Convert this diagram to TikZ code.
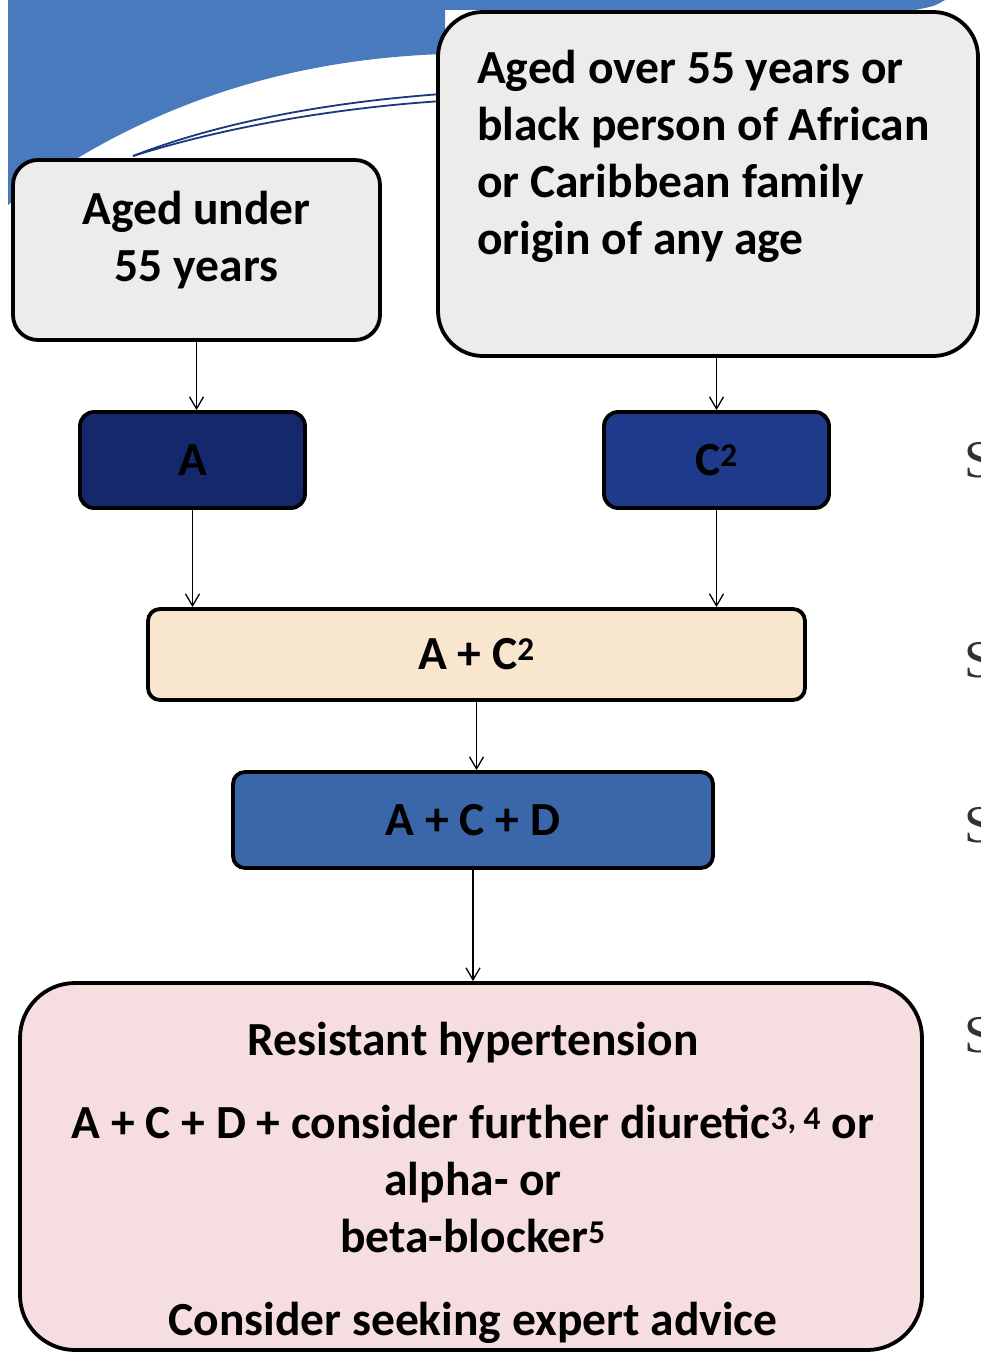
\documentclass[tikz,border=0pt]{standalone}
\usepackage{fontspec}
\setmainfont{Carlito}
\newfontfamily\serifS{Liberation Serif}
\usetikzlibrary{arrows.meta}
\definecolor{bgblue}{RGB}{74,122,190}
\definecolor{lineblue}{RGB}{28,55,128}
\definecolor{boxgray}{RGB}{236,236,236}
\definecolor{navyA}{RGB}{22,40,108}
\definecolor{navyC}{RGB}{30,58,138}
\definecolor{peach}{RGB}{248,230,206}
\definecolor{midblue}{RGB}{58,102,170}
\definecolor{pinkfill}{RGB}{246,222,224}
\definecolor{sgray}{RGB}{50,50,50}
\begin{document}
\begin{tikzpicture}[x=1pt,y=-1pt,
  box/.style={draw=black, line width=3.8pt, rounded corners=#1, inner sep=0pt},
  txt/.style={font=\fontsize{47.5}{57}\selectfont\bfseries, text=black, inner sep=0pt},
  conn/.style={draw=black, line width=1.3pt, -{Straight Barb[length=12pt,width=14pt,line width=1.3pt]}},
  sletter/.style={font=\serifS\fontsize{53}{60}\selectfont, text=sgray, inner sep=0pt, anchor=west}
]
\useasboundingbox (0,0) rectangle (980,1354);
\fill[white] (0,0) rectangle (980,1354);
% blue swoosh
\fill[bgblue] (8,0) -- (945,0) .. controls (935,6) .. (915,10) -- (445,10) -- (445,54)
  .. controls (250,60) and (110,128) .. (8,205) -- cycle;
\draw[lineblue, line width=1.8pt] (133,156) .. controls (220,122) and (330,102) .. (442,94);
\draw[lineblue, line width=1.8pt] (133,156) .. controls (225,127) and (335,108) .. (442,101);

% boxes
\node[box=25pt, fill=boxgray, minimum width=367pt, minimum height=180pt] (under) at (196.5,250) {};
\node[txt, align=center] (undertxt) at (196.5,240) {Aged under\\55 years};

\node[box=45pt, fill=boxgray, minimum width=540pt, minimum height=344pt] (over) at (708,184) {};
\node[txt, align=left, anchor=west] (overtxt) at (477,156) {Aged over 55 years or\\black person of African\\or Caribbean family\\origin of any age};

\node[box=14pt, fill=navyA, minimum width=225pt, minimum height=96pt, txt] (a) at (192.5,460) {A};
\node[box=14pt, fill=navyC, minimum width=225pt, minimum height=96pt, txt] (c2) at (716.5,460) {C\textsuperscript{2}};

\node[box=12pt, fill=peach, minimum width=657pt, minimum height=91pt, txt] (ac2) at (476.5,654.5) {A + C\textsuperscript{2}};
\node[box=12pt, fill=midblue, minimum width=480pt, minimum height=96pt, txt] (acd) at (473,820) {A + C + D};

\node[box=55pt, fill=pinkfill, minimum width=902pt, minimum height=367pt] (res) at (471,1166.5) {};
\node[txt, align=center] (restxt) at (473,1183) {Resistant hypertension\\[26pt]
A + C + D + consider further diuretic\textsuperscript{3, 4} or\\
alpha- or\\
beta-blocker\textsuperscript{5}\\[26pt]
Consider seeking expert advice};

% connectors
\draw[conn] (under.south) -- (under.south |- a.north);
\draw[conn] (c2.north |- over.south) -- (c2.north);
\draw[conn] (a.south) -- (a.south |- ac2.north);
\draw[conn] (c2.south) -- (c2.south |- ac2.north);
\draw[conn] (ac2.south) -- (ac2.south |- acd.north);
\draw[conn] (acd.south) -- (acd.south |- res.north);

% step labels, cut off at the right edge as in the reference
\node[sletter] (s1) at (964,460) {S};
\node[sletter] (s2) at (964,660) {S};
\node[sletter] (s3) at (964,825) {S};
\node[sletter] (s4) at (964,1035) {S};
\end{tikzpicture}
\end{document}
